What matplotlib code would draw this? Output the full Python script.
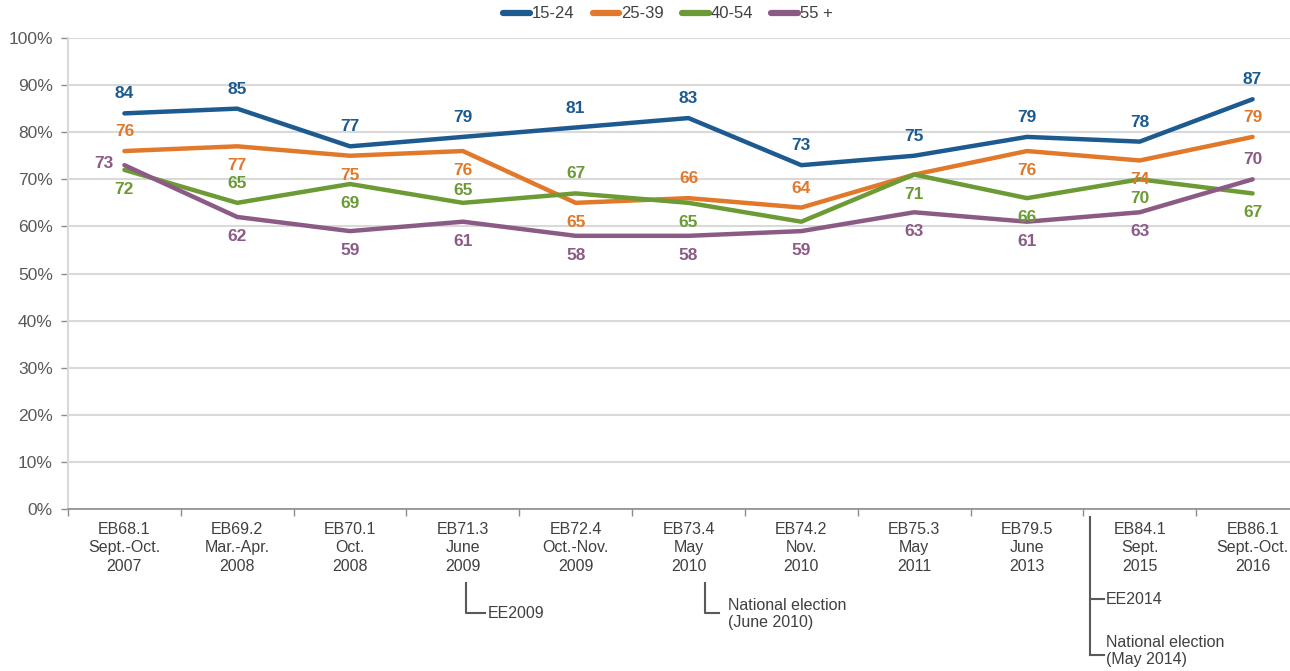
import matplotlib
matplotlib.use("Agg")
import matplotlib.pyplot as plt
import matplotlib.transforms as mtransforms

plt.rcParams['font.family'] = ['Liberation Sans', 'DejaVu Sans']

# survey waves (x axis)
waves = ["EB68.1\nSept.-Oct.\n2007", "EB69.2\nMar.-Apr.\n2008", "EB70.1\nOct.\n2008",
         "EB71.3\nJune\n2009", "EB72.4\nOct.-Nov.\n2009", "EB73.4\nMay\n2010",
         "EB74.2\nNov.\n2010", "EB75.3\nMay\n2011", "EB79.5\nJune\n2013",
         "EB84.1\nSept.\n2015", "EB86.1\nSept.-Oct.\n2016"]

age_15_24 = [84, 85, 77, 79, 81, 83, 73, 75, 79, 78, 87]
age_25_39 = [76, 77, 75, 76, 65, 66, 64, 71, 76, 74, 79]
age_40_54 = [72, 65, 69, 65, 67, 65, 61, 71, 66, 70, 67]
age_55_plus = [73, 62, 59, 61, 58, 58, 59, 63, 61, 63, 70]

series_names = ["15-24", "25-39", "40-54", "55 +"]
colors = ["#1c5a8f", "#e2792a", "#6c9a35", "#8b5b86"]

# where each data label sits: a = above, A = just above, b = below, l = left, None = hidden
label_pos = [
    ["a"] * 11,
    ["a", "b", "b", "b", "b", "a", "a", None, "b", "b", "a"],
    ["b", "a", "b", "A", "a", "b", None, "b", "b", "b", "b"],
    ["l", "b", "b", "b", "b", "b", "b", "b", "b", "b", "a"],
]
offsets = {"a": (0, 14), "A": (0, 9), "b": (0, -14), "l": (-15, 1)}

W, H = 1290, 671
fig = plt.figure(figsize=(W / 100, H / 100), dpi=100)
ax = fig.add_axes([68 / W, 1 - 509 / H, (1309 - 68) / W, (509 - 38) / H])

x = list(range(len(waves)))
all_series = [age_15_24, age_25_39, age_40_54, age_55_plus]
for vals, name, col, pos in zip(all_series, series_names, colors, label_pos):
    ax.plot(x, vals, color=col, lw=3.2, label=name, solid_capstyle='round', zorder=3)
    for xi, v, p in zip(x, vals, pos):
        if p is None:
            continue
        ax.annotate(str(v), (xi, v), xytext=offsets[p], textcoords='offset points',
                    ha='center', va='center', color=col, fontsize=12.5,
                    fontweight='bold', zorder=4)

ax.set_xlim(-0.5, len(waves) - 0.5)
ax.set_ylim(0, 100)
ax.set_yticks(range(0, 101, 10))
ax.set_yticklabels([f"{v}%" for v in range(0, 101, 10)], color="#595959", fontsize=12.5)
ax.yaxis.grid(True, color="#d9d9d9", lw=1.5)
ax.set_axisbelow(True)

ax.set_xticks(x)
ax.set_xticklabels(waves, color="#404040", fontsize=11.5, linespacing=1.3)
ax.set_xticks([i - 0.5 for i in range(len(waves) + 1)], minor=True)
ax.tick_params(axis='x', which='major', length=0, pad=9)
ax.tick_params(axis='x', which='minor', length=5, color="#8c8c8c", width=1)
ax.tick_params(axis='y', length=5, color="#8c8c8c", width=1, pad=6)

for s in ["top", "right"]:
    ax.spines[s].set_visible(False)
ax.spines["left"].set_color("#d9d9d9")
ax.spines["left"].set_linewidth(1.5)
ax.spines["bottom"].set_color("#8c8c8c")
ax.spines["bottom"].set_linewidth(1.2)

# event brackets below the axis
tr = mtransforms.blended_transform_factory(ax.transData, fig.transFigure)
def fy(py):
    return 1 - py / H

lc = "#595959"
ax.plot([3.03, 3.03, 3.2], [fy(583), fy(613), fy(613)], color=lc, lw=1.5,
        transform=tr, clip_on=False)
ax.text(3.22, fy(613), "EE2009", transform=tr, va='center', ha='left',
        color="#404040", fontsize=11.5)

ax.plot([5.15, 5.15, 5.27], [fy(583), fy(613), fy(613)], color=lc, lw=1.5,
        transform=tr, clip_on=False)
ax.text(5.35, fy(614), "National election\n(June 2010)", transform=tr, va='center',
        ha='left', color="#404040", fontsize=11.5, linespacing=1.2)

ax.plot([8.56, 8.56], [fy(517), fy(655)], color=lc, lw=1.5, transform=tr, clip_on=False)
ax.plot([8.56, 8.68], [fy(599), fy(599)], color=lc, lw=1.5, transform=tr, clip_on=False)
ax.plot([8.56, 8.68], [fy(655), fy(655)], color=lc, lw=1.5, transform=tr, clip_on=False)
ax.text(8.7, fy(599), "EE2014", transform=tr, va='center', ha='left',
        color="#404040", fontsize=11.5)
ax.text(8.7, fy(651), "National election\n(May 2014)", transform=tr, va='center',
        ha='left', color="#404040", fontsize=11.5, linespacing=1.2)

leg = fig.legend(loc='center', bbox_to_anchor=(668 / W, 1 - 14 / H), ncol=4,
                 frameon=False, handlelength=1.6, handletextpad=0.1,
                 columnspacing=1.1, fontsize=12)
for line in leg.get_lines():
    line.set_linewidth(4.5)
for t in leg.get_texts():
    t.set_color("#404040")

fig.savefig("out.png", dpi=100)
